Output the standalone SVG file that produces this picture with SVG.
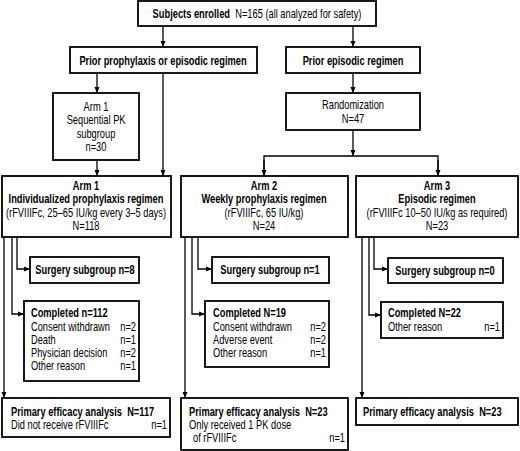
<svg xmlns="http://www.w3.org/2000/svg" width="520" height="451" viewBox="0 0 520 451">
<style>
.box{fill:#fff;stroke:#000;stroke-width:1.8}
.ln{fill:none;stroke:#000;stroke-width:1.3}
text{font-family:"Liberation Sans",Arial,sans-serif;font-size:12px;fill:#000;transform-box:fill-box;transform-origin:0 0;transform:scaleX(0.775)}
.b{font-weight:bold}
.c{text-anchor:middle;transform-origin:50% 0}
.r{text-anchor:end;transform-origin:100% 0}
</style>
<defs>
<marker id="ah" viewBox="0 0 6 6" refX="6" refY="3" markerWidth="6" markerHeight="6" markerUnits="userSpaceOnUse" orient="auto">
<path d="M0,0.5 L6,3 L0,5.5 Z" fill="#000"/>
</marker>
</defs>
<rect width="520" height="451" fill="#fff"/>
<g id="connectors">
<path class="ln" d="M163,26 V47" marker-end="url(#ah)"/>
<path class="ln" d="M353,26 V47" marker-end="url(#ah)"/>
<path class="ln" d="M97,73 V93" marker-end="url(#ah)"/>
<path class="ln" d="M163,73 V176" marker-end="url(#ah)"/>
<path class="ln" d="M97,160 V176" marker-end="url(#ah)"/>
<path class="ln" d="M353,73 V93" marker-end="url(#ah)"/>
<path class="ln" d="M353,130 V156" marker-end="url(#ah)"/>
<path class="ln" d="M264,176 V156 H438 V176" />
<path class="ln" d="M264,160 V176" marker-end="url(#ah)"/>
<path class="ln" d="M438,160 V176" marker-end="url(#ah)"/>
<path class="ln" d="M4,237 V398" marker-end="url(#ah)"/>
<path class="ln" d="M12,237 V314 H24" marker-end="url(#ah)"/>
<path class="ln" d="M17,237 V269 H30" marker-end="url(#ah)"/>
<path class="ln" d="M185,237 V398" marker-end="url(#ah)"/>
<path class="ln" d="M192,237 V314 H205" marker-end="url(#ah)"/>
<path class="ln" d="M198,237 V269 H212" marker-end="url(#ah)"/>
<path class="ln" d="M362,237 V398" marker-end="url(#ah)"/>
<path class="ln" d="M369,237 V315 H381" marker-end="url(#ah)"/>
<path class="ln" d="M374,237 V269 H388" marker-end="url(#ah)"/>
</g>
<g id="enrolled">
<rect class="box" x="138" y="1" width="238" height="25"/>
<text x="257" y="18" class="c"><tspan class="b">Subjects enrolled</tspan>&#160; N=165 (all analyzed for safety)</text>
</g>
<g id="prior-prophylaxis">
<rect class="box" x="70" y="47" width="187" height="26"/>
<text x="163" y="65" class="c b">Prior prophylaxis or episodic regimen</text>
</g>
<g id="prior-episodic">
<rect class="box" x="286" y="47" width="134" height="26"/>
<text x="353" y="65" class="c b">Prior episodic regimen</text>
</g>
<g id="seq-pk">
<rect class="box" x="53" y="93" width="86" height="67"/>
<text x="96" y="111" class="c">Arm 1</text>
<text x="96" y="124.5" class="c">Sequential PK</text>
<text x="96" y="138" class="c">subgroup</text>
<text x="96" y="151.5" class="c">n=30</text>
</g>
<g id="randomization">
<rect class="box" x="286" y="93" width="134" height="37"/>
<text x="353" y="109" class="c">Randomization</text>
<text x="353" y="123" class="c">N=47</text>
</g>
<g id="arm1">
<rect class="box" x="2" y="176" width="169" height="61"/>
<text x="86" y="190" class="c b">Arm 1</text>
<text x="86" y="203.5" class="c b">Individualized prophylaxis regimen</text>
<text x="86" y="217" class="c">(rFVIIIFc, 25–65 IU/kg every 3–5 days)</text>
<text x="86" y="230.5" class="c">N=118</text>
</g>
<g id="arm2">
<rect class="box" x="181" y="176" width="167" height="61"/>
<text x="264" y="190" class="c b">Arm 2</text>
<text x="264" y="203.5" class="c b">Weekly prophylaxis regimen</text>
<text x="264" y="217" class="c">(rFVIIIFc, 65 IU/kg)</text>
<text x="264" y="230.5" class="c">N=24</text>
</g>
<g id="arm3">
<rect class="box" x="356" y="176" width="162" height="61"/>
<text x="437" y="190" class="c b">Arm 3</text>
<text x="437" y="203.5" class="c b">Episodic regimen</text>
<text x="437" y="217" class="c">(rFVIIIFc 10–50 IU/kg as required)</text>
<text x="437" y="230.5" class="c">N=23</text>
</g>
<g id="surgery1">
<rect class="box" x="30" y="257" width="109" height="26"/>
<text x="85" y="274" class="c b">Surgery subgroup n=8</text>
</g>
<g id="surgery2">
<rect class="box" x="212" y="257" width="117" height="26"/>
<text x="270" y="274" class="c b">Surgery subgroup n=1</text>
</g>
<g id="surgery3">
<rect class="box" x="388" y="258" width="115" height="25"/>
<text x="445" y="275" class="c b">Surgery subgroup n=0</text>
</g>
<g id="completed1">
<rect class="box" x="24" y="301" width="115" height="80"/>
<text x="31" y="317" class="b">Completed n=112</text>
<text x="31" y="331">Consent withdrawn</text><text x="136" y="331" class="r">n=2</text>
<text x="31" y="344">Death</text><text x="136" y="344" class="r">n=1</text>
<text x="31" y="357">Physician decision</text><text x="136" y="357" class="r">n=2</text>
<text x="31" y="370">Other reason</text><text x="136" y="370" class="r">n=1</text>
</g>
<g id="completed2">
<rect class="box" x="205" y="301" width="124" height="66"/>
<text x="213" y="317" class="b">Completed N=19</text>
<text x="213" y="331">Consent withdrawn</text><text x="326" y="331" class="r">n=2</text>
<text x="213" y="344">Adverse event</text><text x="326" y="344" class="r">n=2</text>
<text x="213" y="357">Other reason</text><text x="326" y="357" class="r">n=1</text>
</g>
<g id="completed3">
<rect class="box" x="381" y="302" width="122" height="36"/>
<text x="388" y="317" class="b">Completed N=22</text>
<text x="388" y="331">Other reason</text><text x="500" y="331" class="r">n=1</text>
</g>
<g id="efficacy1">
<rect class="box" x="2" y="398" width="168" height="39"/>
<text x="11" y="416" class="b">Primary efficacy analysis&#160; N=117</text>
<text x="11" y="429">Did not receive rFVIIIFc</text><text x="167" y="429" class="r">n=1</text>
</g>
<g id="efficacy2">
<rect class="box" x="181" y="398" width="167" height="52"/>
<text x="189" y="416" class="b">Primary efficacy analysis&#160; N=23</text>
<text x="189" y="429">Only received 1 PK dose</text>
<text x="193" y="442">of rFVIIIFc</text><text x="345" y="442" class="r">n=1</text>
</g>
<g id="efficacy3">
<rect class="box" x="356" y="398" width="162" height="27"/>
<text x="363" y="416" class="b">Primary efficacy analysis&#160; N=23</text>
</g>
</svg>
